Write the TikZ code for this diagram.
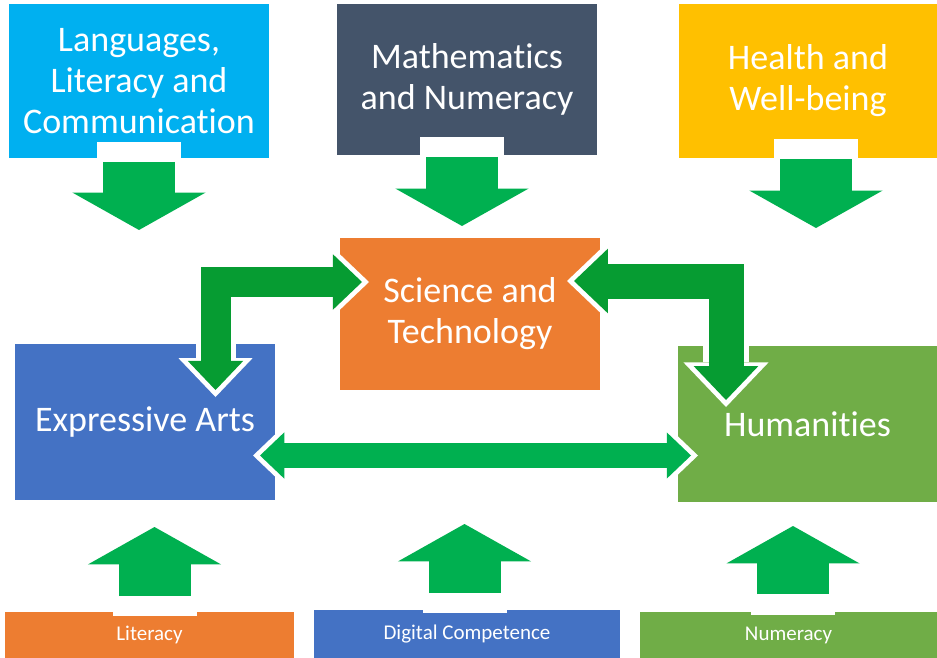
\documentclass[tikz,border=0pt]{standalone}
\usepackage{fontspec}
\setmainfont{Carlito}[Ligatures=NoCommon]
\usetikzlibrary{arrows.meta}

\definecolor{langblue}{HTML}{00B0F0}
\definecolor{mathgrey}{HTML}{44546A}
\definecolor{healthgold}{HTML}{FFC000}
\definecolor{sciorange}{HTML}{ED7D31}
\definecolor{artsblue}{HTML}{4472C4}
\definecolor{humgreen}{HTML}{70AD47}
\definecolor{arrowgreen}{HTML}{00B050}
\definecolor{bentgreen}{HTML}{069C32}

% keep "t" and "i" apart
\newcommand{\tisplit}{t\kern0pt i}

\begin{document}
\begin{tikzpicture}[x=1pt, y=-1pt,
	area/.style={rectangle, inner sep=0pt, outer sep=0pt, align=center, text=white, font=\fontsize{36}{41}\selectfont},
	strand/.style={area, font=\fontsize{21}{25}\selectfont},
	notch/.style={rectangle, fill=white, inner sep=0pt, minimum width=84pt},
	feed/.style={arrowgreen, line width=72pt, -{Triangle[width=0pt 1.85, length=0pt 0.52, line width=0pt]}},
	link/.style={line join=miter, {Triangle[width=0pt 1.85, length=0pt 0.97, line width=0pt]}-{Triangle[width=0pt 1.85, length=0pt 0.97, line width=0pt]}, shorten <=7pt, shorten >=7pt},
	halo/.style={preaction={draw=white, line width=#1, shorten <=0pt, shorten >=0pt}}
]
	\fill[white] (0,0) rectangle (937,658);
	\useasboundingbox (0,0) rectangle (937,658);
	
	% areas of learning
	\node[area, fill=langblue, minimum width=260pt, minimum height=154pt](lang) at (139,81){Languages,\\Literacy and\\Communica\tisplit on};
	\node[area, fill=mathgrey, minimum width=260pt, minimum height=151pt](maths) at (467,79.5){Mathema\tisplit cs\\and Numeracy};
	\node[area, fill=healthgold, minimum width=258pt, minimum height=154pt](health) at (808,81){Health and\\Well-being};
	\node[area, fill=sciorange, minimum width=260pt, minimum height=152pt](sci) at (470,314){Science and\\Technology};
	\node[area, fill=artsblue, minimum width=260pt, minimum height=156pt](arts) at (145,422){Expressive Arts};
	\node[area, fill=humgreen, minimum width=259pt, minimum height=156pt](hum) at (807.5,424){Humani\tisplit es};
	
	% cross-curricular strands
	\node[strand, fill=sciorange, minimum width=289pt, minimum height=46pt](lit) at (149.5,635){Literacy};
	\node[strand, fill=artsblue, minimum width=306pt, minimum height=48pt](digi) at (467,634){Digital Competence};
	\node[strand, fill=humgreen, minimum width=297pt, minimum height=46pt](num) at (788.5,635){Numeracy};
	
	% arrow ends
	\coordinate (langend) at (139,230);
	\coordinate (mathsend) at (462,226);
	\coordinate (healthend) at (816,228);
	\coordinate (litend) at (154.5,527);
	\coordinate (digiend) at (464.5,524);
	\coordinate (numend) at (793,526);
	\coordinate (artstop) at (215.5,397);
	\coordinate (scileft) at (369,282);
	\coordinate (sciright) at (567,281);
	\coordinate (humtop) at (726,407);
	\coordinate (artsright) at (253,455.5);
	\coordinate (humleft) at (698,455.5);
	
	\node[notch, minimum height=16pt, anchor=south](langnotch) at (lang.south -| langend){};
	\node[notch, minimum height=18pt, anchor=south](mathsnotch) at (maths.south -| mathsend){};
	\node[notch, minimum height=19pt, anchor=south](healthnotch) at (health.south -| healthend){};
	\node[notch, minimum height=4pt, anchor=north](litnotch) at (lit.north -| litend){};
	\node[notch, minimum height=3pt, anchor=north](diginotch) at (digi.north -| digiend){};
	\node[notch, minimum height=3pt, anchor=north](numnotch) at (num.north -| numend){};
	
	\draw[feed, shorten <=4pt] (lang.south -| langend) -- (langend);
	\draw[feed, shorten <=2pt] (maths.south -| mathsend) -- (mathsend);
	\draw[feed, shorten <=1pt] (health.south -| healthend) -- (healthend);
	\draw[feed, shorten <=16pt] (lit.north -| litend) -- (litend);
	\draw[feed, shorten <=17pt] (digi.north -| digiend) -- (digiend);
	\draw[feed, shorten <=18pt] (num.north -| numend) -- (numend);
	
	\draw[link, bentgreen, line width=30pt, halo=40pt] (artstop) |- (scileft);
	\draw[link, bentgreen, line width=35pt, halo=46pt] (sciright) -| (humtop);
	\draw[link, arrowgreen, line width=25pt, halo=35pt] (artsright) -- (humleft);
	
\end{tikzpicture}
\end{document}
